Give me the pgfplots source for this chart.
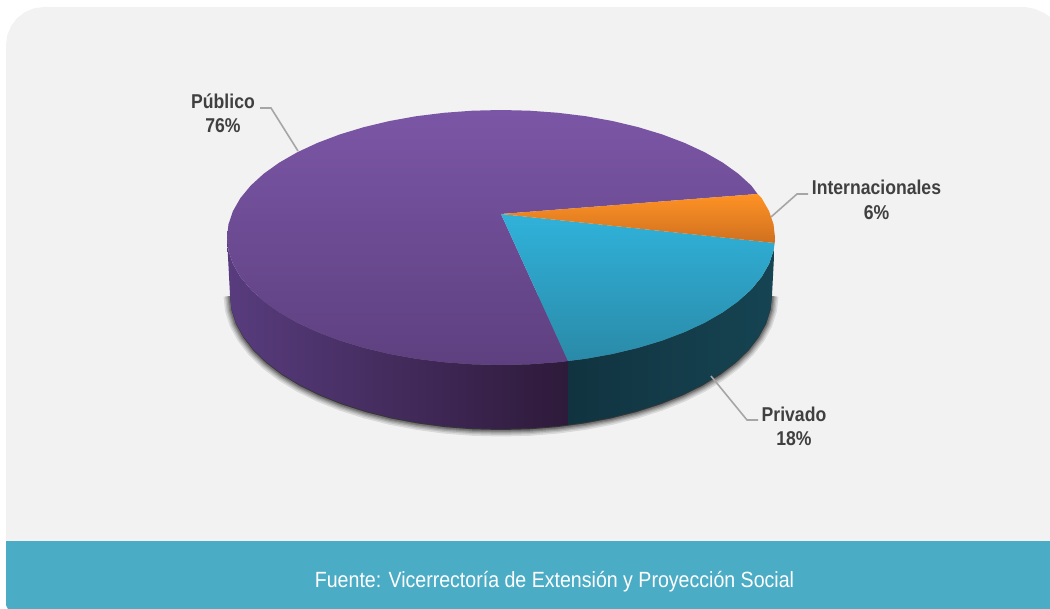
\documentclass[border=0pt]{standalone}
\usepackage{pgfplots}
\pgfplotsset{compat=1.18}
\usepackage{pgfplotstable}
\usepackage{fontspec}
\setmainfont{Liberation Sans}
\newfontfamily\condlab[FakeStretch=0.88]{Liberation Sans}
\newfontfamily\condfoot[FakeStretch=0.89]{Liberation Sans}
\definecolor{panel}{HTML}{F2F2F2}
\definecolor{band}{HTML}{4BACC6}
\definecolor{lead}{HTML}{A6A6A6}
\definecolor{lab}{HTML}{404040}
\definecolor{ptop}{HTML}{7B56A6}
\definecolor{pbot}{HTML}{5E4080}
\definecolor{otop}{HTML}{FF9224}
\definecolor{obot}{HTML}{CF7020}
\definecolor{ttop}{HTML}{30B2DA}
\definecolor{tbot}{HTML}{2A8AA8}
\definecolor{psl}{HTML}{583C7E}
\definecolor{psr}{HTML}{2E1A3A}
\definecolor{tsl}{HTML}{113340}
\definecolor{tsr}{HTML}{164452}
\pgfplotstableread{
x y
230 295
231.5 309
235.9 322.9
243.3 336.4
253.4 349.5
266.3 362
281.8 373.8
299.6 384.7
319.7 394.6
341.7 403.4
365.5 411
390.8 417.4
417.3 422.4
444.7 426.1
472.7 428.3
501 429
529.3 428.3
557.3 426.1
584.7 422.4
611.2 417.4
636.5 411
660.3 403.4
682.3 394.6
702.4 384.7
720.2 373.8
735.7 362
748.6 349.5
758.7 336.4
766.1 322.9
770.5 309
772 295
}\shadowt
\newcommand{\lbl}[3]{\node[font=\condlab\fontsize{20}{24.5}\selectfont\bfseries,text=lab,align=center,inner sep=0pt] at (axis cs:#1,#2) {#3};}
\begin{document}
\begin{tikzpicture}
\begin{axis}[
  scale only axis, width=1050pt, height=609pt,
  xmin=0, xmax=1050, ymin=0, ymax=609, y dir=reverse,
  axis lines=none, clip=true, no markers,
]
% page
\addplot[fill=white,draw=none,forget plot] coordinates {(0,0)(1050,0)(1050,609)(0,609)};
% panel
\addplot[fill=panel,draw=none,forget plot] coordinates {(6,541)(6,45)(7.3,35.2)(11.1,26)(17.1,18.1)(25,12.1)(34.2,8.3)(44,7)(1025,7)(1035,9)(1044,13)(1050,17)(1050,541)};
% band
\addplot[fill=band,draw=none,forget plot] coordinates {(6,541)(1050,541)(1050,609)(8,609)(6,605)};
% shadow
\addplot[fill=black,draw=black,line width=13pt,line join=round,opacity=0.1,yshift=-1pt,forget plot] table {\shadowt};
\addplot[fill=black,draw=black,line width=10pt,line join=round,opacity=0.1,yshift=-1pt,forget plot] table {\shadowt};
\addplot[fill=black,draw=black,line width=7.5pt,line join=round,opacity=0.13,yshift=-1pt,forget plot] table {\shadowt};
\addplot[fill=black,draw=black,line width=5pt,line join=round,opacity=0.15,yshift=-1pt,forget plot] table {\shadowt};
\addplot[fill=black,draw=black,line width=3pt,line join=round,opacity=0.18,yshift=-1pt,forget plot] table {\shadowt};
% purple side
\addplot[draw=none,left color=psl,right color=psr,forget plot] coordinates {
(227,237.5)(228.5,250.8)(233,264)(240.4,276.9)(250.7,289.4)(263.7,301.25)(279.3,312.4)(297.4,322.8)(317.7,332.2)(339.9,340.6)(364,347.9)(389.6,354)(416.3,358.8)(444,362.2)(472.4,364.3)(501,365)(529.6,364.3)(558,362.2)(568,361)
(568,424.8)(557.3,426.1)(529.3,428.3)(501,429)(472.7,428.3)(444.7,426.1)(417.3,422.4)(390.8,417.4)(365.5,411)(341.7,403.4)(319.7,394.6)(299.6,384.7)(281.8,373.8)(266.3,362)(253.4,349.5)(243.3,336.4)(235.9,322.9)(231.5,309)(230,295)};
% teal side
\addplot[draw=none,left color=tsl,right color=tsr,forget plot] coordinates {
(568,361)(585.7,358.8)(612.4,354)(638,347.9)(662.1,340.6)(684.3,332.2)(704.6,322.8)(722.7,312.4)(738.3,301.25)(751.3,289.4)(761.6,276.9)(769,264)(773.5,250.8)(774.7,243)
(772,295)(770.5,309)(766.1,322.9)(758.7,336.4)(748.6,349.5)(735.7,362)(720.2,373.8)(702.4,384.7)(682.3,394.6)(660.3,403.4)(636.5,411)(611.2,417.4)(584.7,422.4)(568,424.8)};
% Publico top
\addplot[draw=none,top color=ptop,bottom color=pbot,forget plot] coordinates {
(501,214)(757.5,194)(751.3,185.6)(738.3,173.75)(722.7,162.6)(704.6,152.2)(684.3,142.8)(662.1,134.4)(638,127.1)(612.4,121)(585.7,116.2)(558,112.8)(529.6,110.7)(501,110)
(472.4,110.7)(444,112.8)(416.3,116.2)(389.6,121)(364,127.1)(339.9,134.4)(317.7,142.8)(297.4,152.2)(279.3,162.6)(263.7,173.75)(250.7,185.6)(240.4,198.1)(233,211)(228.5,224.2)(227,237.5)
(228.5,250.8)(233,264)(240.4,276.9)(250.7,289.4)(263.7,301.25)(279.3,312.4)(297.4,322.8)(317.7,332.2)(339.9,340.6)(364,347.9)(389.6,354)(416.3,358.8)(444,362.2)(472.4,364.3)(501,365)(529.6,364.3)(558,362.2)(568,361)};
% Privado top
\addplot[draw=none,top color=ttop,bottom color=tbot,forget plot] coordinates {
(501,214)(568,361)(585.7,358.8)(612.4,354)(638,347.9)(662.1,340.6)(684.3,332.2)(704.6,322.8)(722.7,312.4)(738.3,301.25)(751.3,289.4)(761.6,276.9)(769,264)(773.5,250.8)(774.7,243)};
% Internacionales top
\addplot[draw=none,top color=otop,bottom color=obot,forget plot] coordinates {
(501,214)(774.7,243)(775,237.5)(773.5,224.2)(769,211)(761.6,198.1)(757.5,194)};
% leaders
\addplot[draw=lead,line width=1.6pt,forget plot] coordinates {(260,108)(271,108)(298,151)};
\addplot[draw=lead,line width=1.6pt,forget plot] coordinates {(808,194)(797,194)(771,217)};
\addplot[draw=lead,line width=1.6pt,forget plot] coordinates {(758,420)(747,420)(711,376)};
% labels
\lbl{223}{113.5}{Público\\76\%}
\lbl{876.5}{200}{Internacionales\\6\%}
\lbl{794}{426.5}{Privado\\18\%}
\node[font=\condfoot\fontsize{22}{26}\selectfont,text=white,inner sep=0pt] at (axis cs:554.5,581.5) {Fuente: Vicerrectoría de Extensión y Proyección Social};
\end{axis}
\end{tikzpicture}
\end{document}
